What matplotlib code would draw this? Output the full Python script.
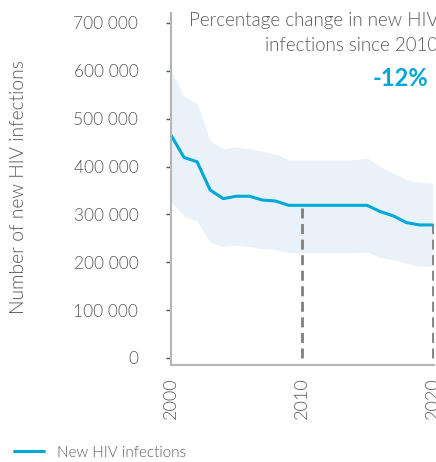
import matplotlib
matplotlib.use("Agg")
import matplotlib.pyplot as plt

plt.rcParams['font.family'] = ['Lato', 'DejaVu Sans']
plt.rcParams['font.weight'] = 300

# datos
anios = list(range(2000, 2021))
infecciones = [466000, 419000, 410000, 351000, 333000, 338000, 338000, 330000, 328000, 319000,
               319000, 319000, 319000, 319000, 319000, 319000, 306000, 297000, 283000, 278000, 278000]
limite_sup = [602000, 546000, 532000, 454000, 437000, 441000, 437000, 432000, 426000, 414000,
              414000, 414000, 414000, 414000, 414000, 418000, 400000, 386000, 372000, 368000, 365000]
limite_inf = [327000, 297000, 286000, 242000, 233000, 236000, 233000, 228000, 227000, 220000,
              220000, 220000, 220000, 220000, 220000, 222000, 210000, 205000, 198000, 192000, 192000]
anios_ref = [2010, 2020]
yticks = [0, 100000, 200000, 300000, 400000, 500000, 600000, 700000]
xticks = [2000, 2010, 2020]
titulo = "Percentage change in new HIV\ninfections since 2010"
cambio = "-12%"

azul = "#00a9d8"
gris_txt = "#5a5a5a"

fig = plt.figure(figsize=(4.36, 4.62), dpi=100)
ax = fig.add_axes([0.392, 0.210, 0.603, 0.762])

#Banda de incertidumbre y linea
ax.fill_between(anios, limite_inf, limite_sup, color="#e8f2f8", lw=0)
ax.plot(anios, infecciones, color=azul, lw=2.2, label="New HIV infections", solid_capstyle="round")

#Lineas punteadas en 2010 y 2020
for a in anios_ref:
    v = infecciones[anios.index(a)]
    ax.vlines(a, 0, v, color="#808080", lw=2, linestyles=(0, (3.6, 2)), zorder=3)

ax.set_xlim(2000, 2020.1)
ax.set_ylim(-14600, 721000)

ax.set_yticks(yticks)
ax.set_yticklabels([f"{v:,}".replace(",", " ") for v in yticks])
ax.set_xticks(xticks)
ax.set_xticklabels([str(x) for x in xticks], rotation=90)

for lado in ["top", "right"]:
    ax.spines[lado].set_visible(False)
for lado in ["left", "bottom"]:
    ax.spines[lado].set_color("#b5b5b5")
    ax.spines[lado].set_linewidth(1.5)

ax.yaxis.set_tick_params(length=3.5, width=1, color="#555555", pad=20,
                         labelsize=12.5, labelcolor=gris_txt)
ax.xaxis.set_tick_params(length=0, pad=9, labelsize=13, labelcolor=gris_txt)

fig.text(0.042, 0.595, "Number of new HIV infections", rotation=90, ha="center", va="center",
         fontsize=13.8, color=gris_txt)

fig.text(1.005, 0.974, titulo, ha="right", va="top", fontsize=13.5, color=gris_txt,
         linespacing=1.55)
fig.text(0.982, 0.831, cambio, ha="right", va="center", fontsize=17, color=azul, fontweight="bold")

ax.legend(loc="lower left", bbox_to_anchor=(0.0, -0.025), bbox_transform=fig.transFigure,
          frameon=False, fontsize=11, labelcolor=gris_txt, handlelength=2.0, handletextpad=0.8)

fig.savefig("out.png", dpi=100)
